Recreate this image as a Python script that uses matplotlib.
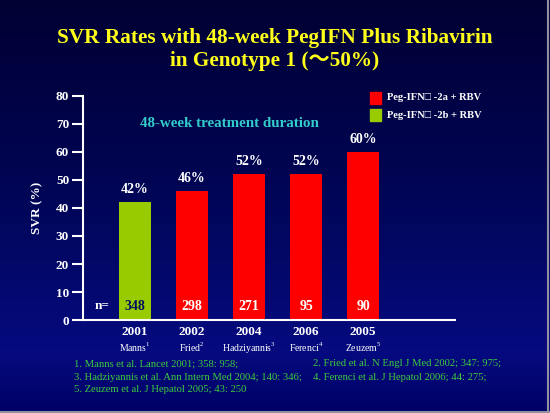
import numpy as np
import matplotlib
matplotlib.use("Agg")
import matplotlib.pyplot as plt
from matplotlib.colors import LinearSegmentedColormap
from matplotlib.patches import Rectangle

plt.rcParams['font.family'] = ['Liberation Serif', 'DejaVu Serif']
plt.rcParams['mathtext.fontset'] = 'custom'
plt.rcParams['mathtext.rm'] = 'Liberation Serif'
plt.rcParams['mathtext.bf'] = 'Liberation Serif:bold'

# ---- data ----
years = ['2001', '2002', '2004', '2006', '2005']
authors = ['Manns', 'Fried', 'Hadziyannis', 'Ferenci', 'Zeuzem']
ref_nums = ['1', '2', '3', '4', '5']
svr = [42, 46, 52, 52, 60]
n_pat = [348, 298, 271, 95, 90]
regimen = ['2b', '2a', '2a', '2a', '2a']
yticks = [0, 10, 20, 30, 40, 50, 60, 70, 80]
legend_labels = {'2a': 'Peg-IFN\u25a1 -2a + RBV', '2b': 'Peg-IFN\u25a1 -2b + RBV'}
references_left = ['1. Manns et al. Lancet 2001; 358: 958;',
                   '3. Hadziyannis et al. Ann Intern Med 2004; 140: 346;',
                   '5. Zeuzem et al. J Hepatol 2005; 43: 250']
references_right = ['2. Fried et al. N Engl J Med 2002; 347: 975;',
                    '4. Ferenci et al. J Hepatol 2006; 44: 275;']

colors = {'2a': '#ff0000', '2b': '#99cc00'}

fig = plt.figure(figsize=(5.5, 4.13), dpi=100)

# background gradient
bg = fig.add_axes([0, 0, 1, 1], zorder=-10)
cmap = LinearSegmentedColormap.from_list('bg', [
    (0.0, (0.0, 0.0, 0.20)),
    (0.45, (0.0, 0.02, 0.33)),
    (0.85, (0.02, 0.04, 0.50)),
    (1.0, (0.0, 0.0, 0.40))])
grad = np.linspace(0, 1, 256).reshape(-1, 1)
bg.imshow(grad, aspect='auto', cmap=cmap, extent=[0, 1, 0, 1], origin='upper')
bg.set_xlim(0, 1); bg.set_ylim(0, 1)
bg.axis('off')
# light border at right and bottom
bg.plot([0.997, 0.997], [0, 1], color='#9090a0', lw=1.5)
bg.plot([0, 1], [0.003, 0.003], color='#9090a0', lw=1.5)

ax = fig.add_axes([0.151, 0.225, 0.676, 0.543])
ax.patch.set_alpha(0)
x = np.arange(len(svr))
bar_colors = [colors[r] for r in regimen]
ax.bar(x, svr, width=0.57, color=bar_colors, zorder=2)
ax.set_xlim(-0.91, 5.61)
ax.set_ylim(0, 80)

for s in ['top', 'right']:
    ax.spines[s].set_visible(False)
ax.spines['left'].set_color('white')
ax.spines['bottom'].set_color('white')
ax.spines['left'].set_linewidth(1.5)
ax.spines['bottom'].set_linewidth(1.5)
ax.set_yticks(yticks)
ax.set_yticklabels([str(t) for t in yticks], color='white', fontsize=9.5, fontweight='bold')
ax.tick_params(axis='y', colors='white', length=8, width=1.5, pad=2)
ax.set_xticks([])
ax.set_ylabel('SVR (%)', color='white', fontsize=9.5, fontweight='bold', labelpad=9)

for i, (v, n, r) in enumerate(zip(svr, n_pat, regimen)):
    ax.text(i, v + 2.2, f'{v}%', ha='center', va='bottom', color='white',
            fontsize=10, fontweight='bold')
    ax.text(i, 5, str(n), ha='center', va='center',
            color='#001060' if r == '2b' else 'white', fontsize=10, fontweight='bold')
    ax.text(i, -2.2, years[i], ha='center', va='top', color='white',
            fontsize=9.5, fontweight='bold', clip_on=False)
    ax.text(i, -7.4, authors[i] + r'$^{\mathrm{' + ref_nums[i] + '}}$', ha='center', va='top',
            color='white', fontsize=7, clip_on=False)
ax.text(-0.58, 5, 'n=', ha='center', va='center', color='white', fontsize=9.5, fontweight='bold')

ax.text(0.154, 0.875, '48-week treatment duration', transform=ax.transAxes,
        color='#33cccc', fontsize=10.8, fontweight='bold', ha='left', va='center')

# legend
for j, key in enumerate(['2a', '2b']):
    yc = 1 - (98 + j * 17) / 413
    fig.patches.append(Rectangle((370 / 550, yc - 5.5 / 413), 11 / 550, 11 / 413,
                                 transform=fig.transFigure, color=colors[key]))
    fig.text(387 / 550, yc, legend_labels[key], color='white', fontsize=7.6,
             fontweight='bold', va='center', ha='left')

# title
fig.text(0.5, 1 - 38 / 413, 'SVR Rates with 48-week PegIFN Plus Ribavirin',
         color='#ffff1a', fontsize=15.3, fontweight='bold', ha='center', va='center')
fig.text(0.5, 1 - 61 / 413, 'in Genotype 1 (\uff5e50%)',
         color='#ffff1a', fontsize=15.3, fontweight='bold', ha='center', va='center',
         family=['Liberation Serif', 'Noto Sans CJK JP', 'DejaVu Serif'])

# references
for k, t in enumerate(references_left):
    fig.text(74 / 550, 1 - (364 + k * 13) / 413, t, color='#3ccc3c', fontsize=7.7,
             ha='left', va='center')
for k, t in enumerate(references_right):
    fig.text(313 / 550, 1 - (364 + k * 13) / 413, t, color='#3ccc3c', fontsize=7.7,
             ha='left', va='center')

fig.savefig('out.png', dpi=100)
